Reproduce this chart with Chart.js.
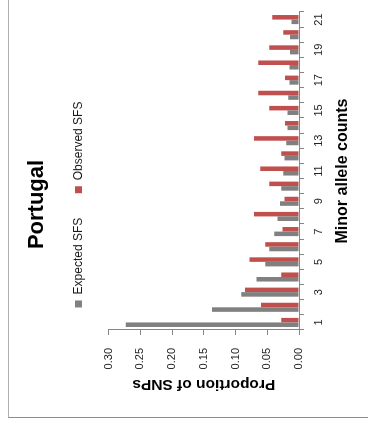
<!DOCTYPE html>
<html>
<head>
<meta charset="utf-8">
<script src="https://cdn.jsdelivr.net/npm/chart.js@4.4.0/dist/chart.umd.min.js"></script>
<style>
  html, body { margin: 0; padding: 0; background: #fff; overflow: hidden; width: 368px; height: 429px; }
  /* chart is drawn upright (429x368) and then turned a quarter left, like the picture */
  #wrap { position: absolute; left: 0; top: 0; width: 429px; height: 368px;
          transform-origin: 0 0; transform: translate(0, 429px) rotate(-90deg); }
  #frame { position: absolute; left: 11px; top: 8px; width: 430px; height: 370px;
           border-left: 1px solid #8c8c8c; border-top: 1px solid #b0b0b0; }
  canvas { position: absolute; left: 0; top: 0; }
</style>
</head>
<body>
<div id="wrap">
  <div id="frame"></div>
  <canvas id="sfsChart" width="429" height="368"></canvas>
</div>
<script>
// Portugal site frequency spectrum
const counts = ['1', '2', '3', '4', '5', '6', '7', '8', '9', '10', '11',
                '12', '13', '14', '15', '16', '17', '18', '19', '20', '21'];
const expectedSFS = [0.273, 0.137, 0.091, 0.067, 0.053, 0.047, 0.039, 0.034, 0.030, 0.028, 0.025,
                     0.023, 0.020, 0.018, 0.018, 0.017, 0.015, 0.015, 0.014, 0.014, 0.012];
const observedSFS = [0.028, 0.060, 0.085, 0.028, 0.078, 0.053, 0.026, 0.071, 0.023, 0.047, 0.061,
                     0.028, 0.071, 0.022, 0.047, 0.064, 0.022, 0.064, 0.047, 0.025, 0.042];
const yTicks = [0, 0.05, 0.10, 0.15, 0.20, 0.25, 0.30];

const axisColor = '#868686';
const textColor = '#1a1a1a';
const font = 'Liberation Sans, Arial, sans-serif';

// leave some room between legend and plot
const legendGap = {
  id: 'legendGap',
  beforeInit(chart) {
    const origFit = chart.legend.fit;
    chart.legend.fit = function () {
      origFit.bind(chart.legend)();
      this.height += 14;
    };
  }
};

const ctx = document.getElementById('sfsChart').getContext('2d');
new Chart(ctx, {
  type: 'bar',
  data: {
    labels: counts,
    datasets: [
      { label: 'Expected SFS', data: expectedSFS, backgroundColor: '#808080',
        categoryPercentage: 0.6, barPercentage: 1.0 },
      { label: 'Observed SFS', data: observedSFS, backgroundColor: '#c0504d',
        categoryPercentage: 0.6, barPercentage: 1.0 }
    ]
  },
  plugins: [legendGap],
  options: {
    responsive: false,
    animation: false,
    devicePixelRatio: 1,
    layout: { padding: { left: 32, right: 12, top: 0, bottom: 0 } },
    plugins: {
      title: {
        display: true,
        text: 'Portugal',
        color: '#000',
        font: { family: font, size: 22, weight: 'bold', lineHeight: 1.0 },
        padding: { top: 26, bottom: 0 }
      },
      legend: {
        display: true,
        labels: {
          boxWidth: 7, boxHeight: 7, padding: 24.5,
          color: textColor,
          font: { family: font, size: 12 }
        }
      },
      tooltip: { enabled: false }
    },
    scales: {
      x: {
        afterFit: s => { s.height = 69; },
        grid: { offset: true, drawOnChartArea: false, tickLength: 5, color: axisColor },
        border: { color: axisColor },
        ticks: {
          autoSkip: false, maxRotation: 0, padding: 8, color: textColor,
          font: { family: font, size: 11 },
          callback: (v, i) => (i % 2 === 0 ? counts[i] : '')
        },
        title: {
          display: true, text: 'Minor allele counts', color: '#000',
          font: { family: font, size: 16, weight: 'bold' },
          padding: { top: 0, bottom: 15.4 }
        }
      },
      y: {
        afterFit: s => { s.width = 67; },
        min: 0, max: 0.30,
        afterBuildTicks: s => { s.ticks = yTicks.map(v => ({ value: v })); },
        grid: { drawOnChartArea: false, tickLength: 5, color: axisColor },
        border: { color: axisColor },
        ticks: {
          padding: 13, color: textColor,
          font: { family: font, size: 11 },
          callback: v => Number(v).toFixed(2)
        },
        title: {
          display: true, text: 'Proportion of SNPs', color: '#000',
          font: { family: font, size: 15.5, weight: 'bold' },
          padding: { top: 3, bottom: 0 }
        }
      }
    }
  }
});
</script>
</body>
</html>
